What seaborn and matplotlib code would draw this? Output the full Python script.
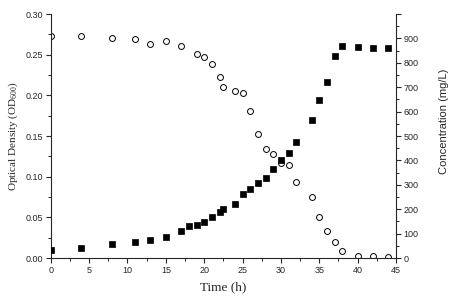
import seaborn as sns
import matplotlib.pyplot as plt
import pandas as pd
from matplotlib.ticker import MultipleLocator

# optical density (filled squares, left axis)
od_time = [0, 4, 8, 11, 13, 15, 17, 18, 19, 20, 21, 22, 22.5, 24, 25, 26, 27, 28,
           29, 30, 31, 32, 34, 35, 36, 37, 38, 40, 42, 44]
od_value = [0.010, 0.012, 0.017, 0.020, 0.022, 0.026, 0.033, 0.040, 0.041, 0.044,
            0.051, 0.056, 0.060, 0.066, 0.079, 0.085, 0.092, 0.099, 0.109, 0.120,
            0.129, 0.143, 0.170, 0.194, 0.216, 0.249, 0.261, 0.259, 0.258, 0.258]

# concentration (open circles, right axis)
conc_time = [0, 4, 8, 11, 13, 15, 17, 19, 20, 21, 22, 22.5, 24, 25, 26, 27, 28,
             29, 30, 31, 32, 34, 35, 36, 37, 38, 40, 42, 44]
conc_value = [911, 909, 900, 896, 878, 888, 869, 836, 822, 796, 742, 700, 683, 675,
              604, 509, 445, 425, 389, 380, 310, 250, 169, 112, 67, 30, 9, 7, 4]

od_df = pd.DataFrame({"t": od_time, "od": od_value})
conc_df = pd.DataFrame({"t": conc_time, "c": conc_value})

sns.set_style("ticks")
plt.rcParams['font.family'] = ['Liberation Sans', 'DejaVu Sans']
plt.rcParams['axes.linewidth'] = 0.8
plt.rcParams['mathtext.fontset'] = 'custom'
plt.rcParams['mathtext.rm'] = 'Liberation Serif'
plt.rcParams['mathtext.it'] = 'Liberation Serif:italic'

fig = plt.figure(figsize=(4.49, 2.99), dpi=100)
ax = fig.add_axes([0.113, 0.137, 0.769, 0.816])
ax2 = ax.twinx()

sns.scatterplot(data=conc_df, x="t", y="c", ax=ax2, marker="o", s=18,
                facecolor="white", edgecolor="black", linewidth=0.7, zorder=3)
sns.scatterplot(data=od_df, x="t", y="od", ax=ax, marker="s", s=20,
                color="black", edgecolor="black", linewidth=0.5, zorder=4)
ax.set_zorder(ax2.get_zorder() + 1)
ax.patch.set_visible(False)

ax.set_xlim(0, 45)
ax.set_ylim(0, 0.30)
ax2.set_ylim(0, 1000)

ax.xaxis.set_major_locator(MultipleLocator(5))
ax.xaxis.set_minor_locator(MultipleLocator(2.5))
ax.yaxis.set_major_locator(MultipleLocator(0.05))
ax.yaxis.set_minor_locator(MultipleLocator(0.025))
ax2.yaxis.set_major_locator(MultipleLocator(100))
ax2.yaxis.set_minor_locator(MultipleLocator(50))
ax.yaxis.set_major_formatter(lambda v, p: f"{v:.2f}")
# top tick at 1000 stays unlabeled
ax2.yaxis.set_major_formatter(lambda v, p: "" if v >= 1000 else f"{int(v)}")

for a in (ax, ax2):
    a.tick_params(which="major", length=3.5, width=0.8, labelsize=6.5, direction="out", pad=2)
    a.tick_params(which="minor", length=2, width=0.7, direction="out")
    a.spines["top"].set_visible(False)
ax.spines["right"].set_visible(False)
ax2.spines["left"].set_visible(False)
ax2.spines["bottom"].set_visible(False)

ax.set_xlabel("Time (h)", family="Liberation Serif", fontsize=9.5, labelpad=5)
ax.set_ylabel("Optical Density (OD$_{600}$)", family="Liberation Serif", fontsize=8)
ax2.set_ylabel("Concentration (mg/L)", fontsize=8)
ax2.yaxis.set_label_coords(1.125, 0.56)

plt.savefig("out.png", dpi=100)
plt.close()
